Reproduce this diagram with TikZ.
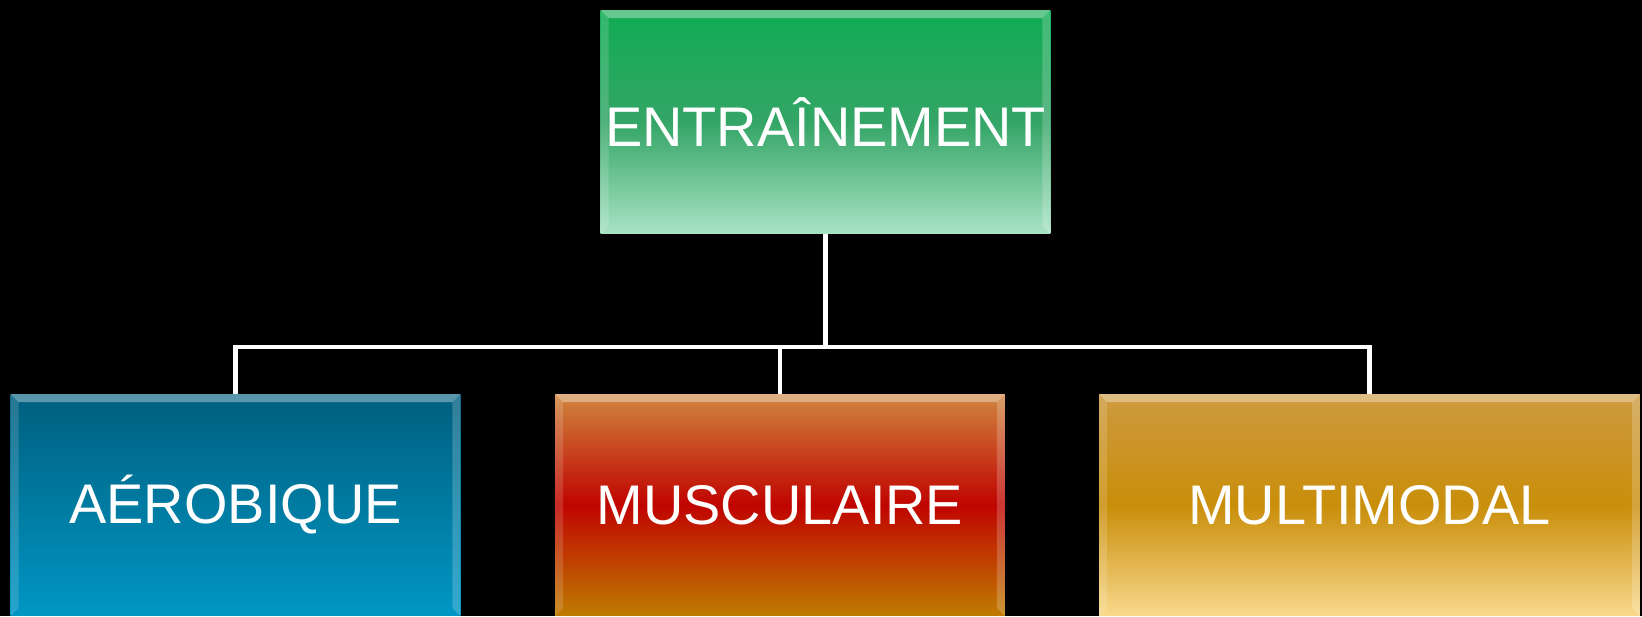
\documentclass[tikz,border=0pt]{standalone}
\usepackage{fontspec}
\setmainfont{Liberation Sans}
\usepackage{xcolor}
\usepackage{tikz}
\usetikzlibrary{positioning}

\definecolor{entrTop}{HTML}{10AC54}
\definecolor{entrMid}{HTML}{34A566}
\definecolor{entrBot}{HTML}{A9E3C5}
\definecolor{aerTop}{HTML}{005F7F}
\definecolor{aerBot}{HTML}{0096C4}
\definecolor{musTop}{HTML}{D0863E}
\definecolor{musMid}{HTML}{C00400}
\definecolor{musBot}{HTML}{BF7C00}
\definecolor{mulTop}{HTML}{CD9A40}
\definecolor{mulMid}{HTML}{C98E0A}
\definecolor{mulBot}{HTML}{F9D98C}

\begin{document}
\begin{tikzpicture}[
    x=0.02cm, y=-0.02cm,
    box/.style={rectangle, inner sep=0pt, outer sep=0pt, text=white,
      minimum width=9cm, minimum height=4.44cm,
      font=\fontsize{31.8}{38}\selectfont,
      path picture={
        \fill[white, opacity=0.35] (path picture bounding box.north west) -- (path picture bounding box.north east)
          -- ([xshift=-0.16cm,yshift=-0.16cm]path picture bounding box.north east) -- ([xshift=0.16cm,yshift=-0.16cm]path picture bounding box.north west) -- cycle;
        \fill[white, opacity=0.15] (path picture bounding box.north west) -- ([xshift=0.16cm,yshift=-0.16cm]path picture bounding box.north west)
          -- ([xshift=0.16cm,yshift=0.16cm]path picture bounding box.south west) -- (path picture bounding box.south west) -- cycle;
        \fill[white, opacity=0.2] (path picture bounding box.north east) -- ([xshift=-0.16cm,yshift=-0.16cm]path picture bounding box.north east)
          -- ([xshift=-0.16cm,yshift=0.16cm]path picture bounding box.south east) -- (path picture bounding box.south east) -- cycle;
      }},
    link/.style={draw=white, line width=2.8pt}]
    \fill[black] (0,0) rectangle (1642,616);
    \useasboundingbox (0,0) rectangle (1642,616);

    \node[box, minimum height=4.48cm, top color=entrTop, bottom color=entrBot, middle color=entrMid] (entr) at (825.5,122) {ENTRAÎNEMENT};
    \node[box, top color=aerTop, bottom color=aerBot] (aer) at (235.5,505) {AÉROBIQUE};
    \node[box, top color=musTop, bottom color=musBot, middle color=musMid] (mus) at (780,505) {MUSCULAIRE};
    \node[box, minimum width=10.82cm, top color=mulTop, bottom color=mulBot, middle color=mulMid] (multi) at (1369.5,505) {MULTIMODAL};

    \coordinate (bus) at (825.5,347);
    \draw[link] (entr.south) -- (bus);
    \foreach \n in {aer,mus,multi}
        \draw[link] (bus) -| (\n.north);
\end{tikzpicture}
\end{document}
